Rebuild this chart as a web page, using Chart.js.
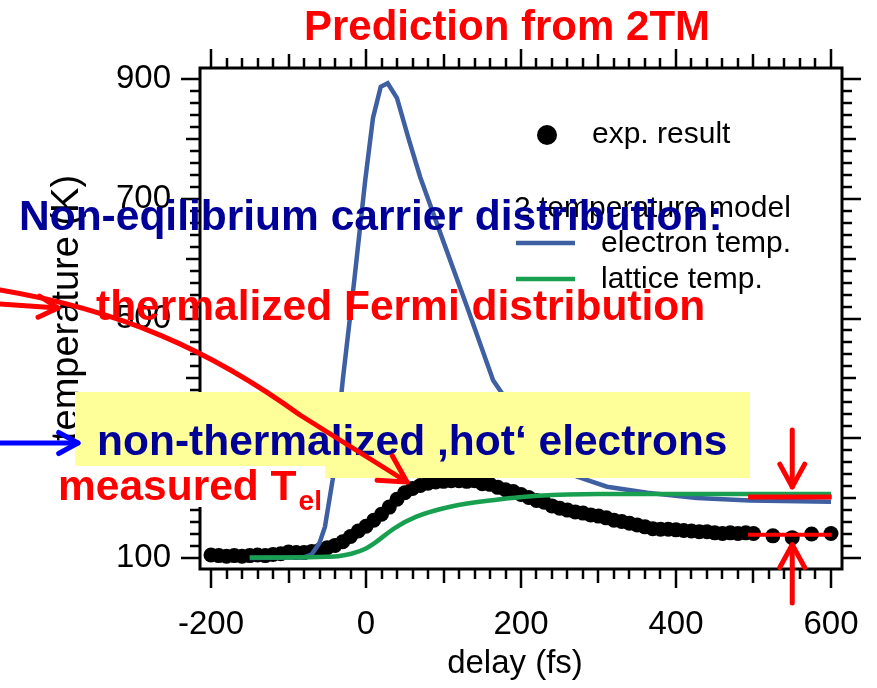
<!DOCTYPE html>
<html lang="en">
<head>
<meta charset="UTF-8" />
<title>Prediction from 2TM</title>
<script src="https://cdn.jsdelivr.net/npm/chart.js"></script>
<style>
  body { margin: 0; background: #fff; }
  #wrap { width: 877px; height: 688px; }
</style>
</head>
<body>
<div id="wrap"><canvas id="tempChart" width="877" height="688"></canvas></div>
<script>
  // measured electron temperature (exp. result)
  const expDelay = [-200, -190, -180, -170, -160, -150, -140, -130, -120, -110,
    -100, -90, -80, -70, -60, -50, -40, -30, -20, -10,
    0, 10, 20, 30, 40, 50, 60, 70, 80, 90,
    100, 110, 120, 130, 140, 150, 160, 170, 180, 190,
    200, 210, 220, 230, 240, 250, 260, 270, 280, 290,
    300, 310, 320, 330, 340, 350, 360, 370, 380, 390,
    400, 410, 420, 430, 440, 450, 460, 470, 480, 490,
    500, 525, 550, 575, 600];
  const expTemp = [105, 104, 103, 104, 103, 104, 105, 104, 106, 107,
    110, 109, 109, 111, 113, 117, 121, 127, 136, 145,
    153, 163, 173, 185, 198, 209, 216, 221, 225, 227,
    228, 229, 229, 228, 229, 224, 223, 218, 214, 211,
    206, 201, 196, 193, 187, 183, 180, 177, 175, 172,
    170, 167, 163, 161, 158, 155, 152, 149, 148, 148,
    147, 146, 145, 144, 144, 142, 141, 142, 141, 142,
    141, 137, 134, 140, 141];

  // two temperature model: electron temp.
  const elecDelay = [-150, -100, -80, -70, -60, -53, -43, -30, -15, -1, 9, 19, 28, 40, 55, 70,
    100, 130, 164, 175, 200, 225, 250, 272, 311, 363, 427, 495, 600];
  const elecTemp = [100, 101, 101, 106, 125, 152, 231, 397, 565, 731, 835, 887, 893, 868, 800, 736,
    628, 521, 397, 376, 319, 283, 257, 236, 219, 209, 200, 196, 194];

  // two temperature model: lattice temp.
  const latDelay = [-150, -100, -50, -36, -19, 0, 9, 37, 65, 110, 166, 222, 300, 400, 500, 600];
  const latTemp = [101, 101, 102, 103, 107, 116, 123, 150, 169, 186, 197, 204, 207, 207, 207, 207];

  // red level marks at the end of the scan
  const markDelay = [493, 601];
  const markHigh = 202;
  const markLow = 139;
  const markArrowAt = 550;

  const xTickLabels = [-200, 0, 200, 400, 600];
  const yTickLabels = [100, 300, 500, 700, 900];

  const FONT = '"Liberation Sans", Arial, sans-serif';
  const BLUE_LINE = '#3f5fa3';
  const GREEN_LINE = '#18a050';
  const DARK_BLUE = '#000099';

  const pts = (xs, ys) => xs.map((v, i) => ({ x: v, y: ys[i] }));

  function arrowHead(ctx, x0, y0, x1, y1, size) {
    const a = Math.atan2(y1 - y0, x1 - x0);
    ctx.beginPath();
    ctx.moveTo(x1 - size * Math.cos(a - 0.5), y1 - size * Math.sin(a - 0.5));
    ctx.lineTo(x1, y1);
    ctx.lineTo(x1 - size * Math.cos(a + 0.5), y1 - size * Math.sin(a + 0.5));
    ctx.stroke();
  }

  function arrow(ctx, x0, y0, x1, y1, size) {
    ctx.beginPath();
    ctx.moveTo(x0, y0);
    ctx.lineTo(x1, y1);
    ctx.stroke();
    arrowHead(ctx, x0, y0, x1, y1, size);
  }

  // box with outward ticks on all four sides
  const frame = {
    id: 'frame',
    beforeDatasetsDraw(chart) {
      const { ctx, chartArea: a, scales: { x, y } } = chart;
      ctx.save();
      ctx.strokeStyle = '#000';
      ctx.lineWidth = 3;
      ctx.strokeRect(a.left, a.top, a.right - a.left, a.bottom - a.top);
      ctx.lineWidth = 2.5;
      const seg = (x0, y0, x1, y1) => {
        ctx.beginPath(); ctx.moveTo(x0, y0); ctx.lineTo(x1, y1); ctx.stroke();
      };
      for (let v = -200; v <= 600; v += 20) {
        const len = v % 200 === 0 ? 19 : (v % 100 === 0 ? 14 : 10);
        const px = Math.round(x.getPixelForValue(v));
        seg(px, a.bottom, px, a.bottom + len);
        seg(px, a.top, px, a.top - len);
      }
      for (let v = 100; v <= 900; v += 20) {
        const len = (v - 100) % 200 === 0 ? 19 : ((v - 100) % 100 === 0 ? 14 : 10);
        const py = Math.round(y.getPixelForValue(v));
        seg(a.left, py, a.left - len, py);
        seg(a.right, py, a.right + len, py);
      }
      ctx.restore();
    }
  };

  // axis titles, legend and the slide annotations on top of the plot
  const overlay = {
    id: 'overlay',
    afterDraw(chart) {
      const { ctx, scales: { x, y } } = chart;
      ctx.save();

      ctx.fillStyle = '#000';
      ctx.font = `33px ${FONT}`;
      ctx.textAlign = 'center';
      ctx.textBaseline = 'middle';
      ctx.fillText('delay (fs)', 515, 664);
      ctx.save();
      ctx.translate(68, 308);
      ctx.rotate(-Math.PI / 2);
      ctx.font = `38px ${FONT}`;
      ctx.fillText('temperature (K)', 0, 0);
      ctx.restore();

      // legend
      ctx.textAlign = 'left';
      ctx.font = `30px ${FONT}`;
      ctx.beginPath();
      ctx.arc(547, 135, 10, 0, Math.PI * 2);
      ctx.fill();
      ctx.fillText('exp. result', 592, 135);
      ctx.fillText('2 temperature model', 514, 209);
      ctx.fillText('electron temp.', 601, 244);
      ctx.fillText('lattice temp.', 601, 280);
      ctx.lineWidth = 4.5;
      ctx.strokeStyle = BLUE_LINE;
      ctx.beginPath(); ctx.moveTo(516, 243); ctx.lineTo(575, 243); ctx.stroke();
      ctx.strokeStyle = GREEN_LINE;
      ctx.beginPath(); ctx.moveTo(516, 279); ctx.lineTo(575, 279); ctx.stroke();

      // yellow label box, white patch behind "measured T_el"
      ctx.fillStyle = '#ffff99';
      ctx.fillRect(75, 392, 675, 86);
      ctx.fillStyle = '#fff';
      ctx.fillRect(50, 466, 275, 41);

      ctx.textBaseline = 'alphabetic';
      ctx.font = `bold 42px ${FONT}`;
      ctx.fillStyle = '#ff0000';
      ctx.textAlign = 'center';
      ctx.fillText('Prediction from 2TM', 507, 40);
      ctx.textAlign = 'left';
      ctx.font = `bold 42.5px ${FONT}`;
      ctx.fillText('thermalized Fermi distribution', 96, 320);
      ctx.fillText('measured T', 58, 500);
      const w = ctx.measureText('measured T').width;
      ctx.font = `bold 28px ${FONT}`;
      ctx.fillText('el', 58 + w + 2, 510);

      ctx.font = `bold 42.5px ${FONT}`;
      ctx.fillStyle = DARK_BLUE;
      ctx.fillText('Non-eqilibrium carrier distribution:', 19, 230);
      ctx.fillText('non-thermalized \u201Ahot\u2018 electrons', 97, 455);

      // arrows
      ctx.lineCap = 'round';
      ctx.lineJoin = 'round';
      ctx.lineWidth = 5;
      ctx.strokeStyle = '#0000ff';
      arrow(ctx, 0, 443, 78, 443, 22);

      ctx.strokeStyle = '#ff0000';
      arrow(ctx, 0, 304, 58, 308, 22);
      ctx.beginPath();
      ctx.moveTo(0, 290);
      ctx.bezierCurveTo(120, 310, 210, 350, 300, 415);
      ctx.lineTo(407, 482);
      ctx.stroke();
      arrowHead(ctx, 300, 415, 407, 482, 30);

      const ax = x.getPixelForValue(markArrowAt);
      const yHigh = y.getPixelForValue(markHigh);
      const yLow = y.getPixelForValue(markLow);
      arrow(ctx, ax, 430, ax, yHigh - 10, 26);
      arrow(ctx, ax, 603, ax, yLow + 10, 26);

      ctx.restore();
    }
  };

  new Chart(document.getElementById('tempChart'), {
    type: 'scatter',
    data: {
      datasets: [
        {
          label: 'high mark',
          data: pts(markDelay, markDelay.map(() => markHigh)),
          showLine: true, borderColor: '#ff0000', borderWidth: 5,
          pointRadius: 0, order: 0
        },
        {
          label: 'low mark',
          data: pts(markDelay, markDelay.map(() => markLow)),
          showLine: true, borderColor: '#ff0000', borderWidth: 4,
          pointRadius: 0, order: 0
        },
        {
          label: 'lattice temp.',
          data: pts(latDelay, latTemp),
          showLine: true, borderColor: GREEN_LINE, borderWidth: 4.5,
          pointRadius: 0, cubicInterpolationMode: 'monotone', order: 1
        },
        {
          label: 'electron temp.',
          data: pts(elecDelay, elecTemp),
          showLine: true, borderColor: BLUE_LINE, borderWidth: 4.5,
          pointRadius: 0, tension: 0, order: 2
        },
        {
          label: 'exp. result',
          data: pts(expDelay, expTemp),
          showLine: false, pointRadius: 7.5,
          pointBackgroundColor: '#000', pointBorderWidth: 0, order: 3
        }
      ]
    },
    options: {
      responsive: false,
      devicePixelRatio: 1,
      animation: false,
      layout: { padding: { top: 68, right: 35, left: 0, bottom: 0 } },
      plugins: { legend: { display: false }, tooltip: { enabled: false } },
      scales: {
        x: {
          type: 'linear', min: -214.2, max: 614.2,
          grid: { display: false, drawTicks: false },
          border: { display: false },
          afterFit: s => { s.height = 119; s.paddingLeft = 0; s.paddingRight = 0; },
          afterBuildTicks: s => { s.ticks = xTickLabels.map(v => ({ value: v })); },
          ticks: { color: '#000', padding: 36, maxRotation: 0, font: { family: FONT, size: 33 } }
        },
        y: {
          type: 'linear', min: 81.6, max: 918.4,
          grid: { display: false, drawTicks: false },
          border: { display: false },
          afterFit: s => { s.width = 200; s.paddingTop = 0; s.paddingBottom = 0; },
          afterBuildTicks: s => { s.ticks = yTickLabels.map(v => ({ value: v })); },
          ticks: { color: '#000', padding: 29, font: { family: FONT, size: 33 } }
        }
      }
    },
    plugins: [frame, overlay]
  });
</script>
</body>
</html>
